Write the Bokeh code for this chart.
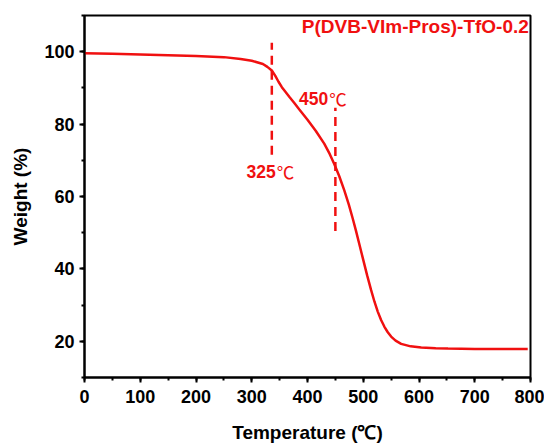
from bokeh.plotting import figure
from bokeh.models import SingleIntervalTicker, Range1d
from bokeh.core.properties import value
from bokeh.embed import file_html
from bokeh.resources import INLINE

temperature = [0, 50, 100, 150, 200, 250, 280, 300, 320, 328, 336, 342, 348, 354, 360, 368,
               376, 385, 400, 415, 430, 440, 448, 457, 466, 474, 481, 487, 493, 500, 507,
               514, 520, 526, 532, 538, 544, 550, 558, 568, 585, 604, 630, 652, 700, 750, 795]
weight = [99.6, 99.4, 99.2, 99.0, 98.8, 98.5, 98.0, 97.5, 96.6, 95.8, 94.8, 93.4, 91.7, 90.2,
          89.0, 87.4, 85.9, 84.1, 81.2, 78.1, 74.6, 71.7, 69.0, 65.6, 61.7, 57.8, 54.0, 50.5,
          46.8, 42.5, 38.2, 34.2, 31.0, 28.2, 25.9, 24.0, 22.5, 21.3, 20.2, 19.3, 18.6, 18.3,
          18.1, 18.0, 17.9, 17.9, 17.9]

marker_temps = [336, 450]
marker_labels = ["325", "450"]
marker_y0 = [71.5, 50.5]
marker_y1 = [102.5, 84.5]

sample_name = "P(DVB-VIm-Pros)-TfO-0.2"

RED = "#f01010"
FONT = "Liberation Sans"

p = figure(frame_width=446, frame_height=362, output_backend="svg", toolbar_location=None,
           x_range=Range1d(0, 800), y_range=Range1d(10, 110),
           min_border_left=84, min_border_top=15, min_border_right=14, min_border_bottom=61)
p.grid.visible = False
p.background_fill_color = "white"
p.border_fill_color = "white"
p.outline_line_color = "black"
p.outline_line_width = 2

p.xaxis.ticker = SingleIntervalTicker(interval=100, num_minor_ticks=2)
p.yaxis.ticker = SingleIntervalTicker(interval=20, num_minor_ticks=2)
for ax in (p.xaxis[0], p.yaxis[0]):
    ax.axis_line_width = 2
    ax.major_tick_line_width = 2
    ax.minor_tick_line_width = 2
    ax.major_tick_in = 0
    ax.major_tick_out = 5
    ax.minor_tick_in = 0
    ax.minor_tick_out = 3
    ax.major_label_text_font = FONT
    ax.major_label_text_font_style = "bold"
    ax.major_label_text_font_size = "18px"
    ax.major_label_text_color = "black"
    ax.axis_label_text_font = FONT
    ax.axis_label_text_font_style = "bold"
    ax.axis_label_text_font_size = "19px"
    ax.axis_label_text_color = "black"

p.xaxis.axis_label = "Temperature (℃)"
p.yaxis.axis_label = "Weight (%)"
p.xaxis.major_label_standoff = 7
p.yaxis.major_label_standoff = 5
p.xaxis.axis_label_standoff = 16
p.yaxis.axis_label_standoff = 10

p.line(temperature, weight, line_color=RED, line_width=2.5)

p.segment(x0=marker_temps, y0=marker_y0, x1=marker_temps, y1=marker_y1,
          line_color=RED, line_width=2.5, line_dash="9 6")

p.text(x=[343, 437], y=[67, 87.2], text=marker_labels, text_color=RED,
       text_font=value(FONT), text_font_style="bold", text_font_size="17.5px",
       text_align="right", text_baseline="middle")
p.text(x=[345, 439], y=[67, 87.2], text=["℃", "℃"], text_color=RED,
       text_font=value("Noto Sans CJK SC"), text_font_style="normal", text_font_size="17.5px",
       text_align="left", text_baseline="middle")

p.text(x=[797], y=[106.9], text=[sample_name], text_color=RED,
       text_font=value(FONT), text_font_style="bold", text_font_size="19px",
       text_align="right", text_baseline="middle")

open("out.html", "w").write(file_html(p, INLINE))
